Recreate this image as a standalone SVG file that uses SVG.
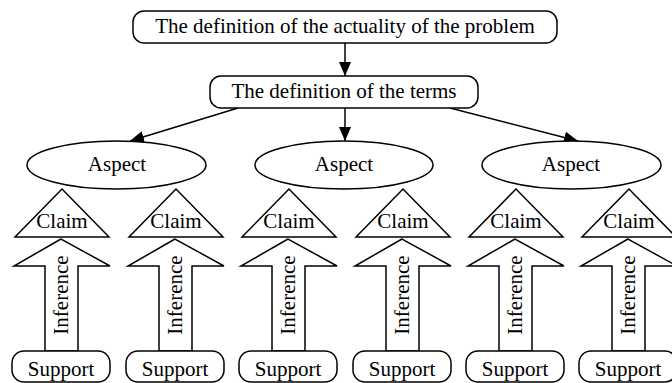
<svg xmlns="http://www.w3.org/2000/svg" width="672" height="383" viewBox="0 0 672 383">
<defs>
<style>
.s{fill:#fff;stroke:#000;stroke-width:1.5}
.t{font-family:'Liberation Serif','DejaVu Serif',serif;font-size:21px;fill:#000;text-anchor:middle}
.c{stroke:#000;stroke-width:1.5;fill:none}
</style>
<marker id="ah" viewBox="0 0 14 12" refX="14" refY="6" markerWidth="14" markerHeight="12" markerUnits="userSpaceOnUse" orient="auto">
<path d="M0,0 L14,6 L0,12 Z" fill="#000"/>
</marker>
<g id="col">
<polygon class="s" points="0,-48 -47,0 47,0"/>
<text class="t" font-family="Liberation Serif, serif" x="0" y="-9">Claim</text>
<polygon class="s" points="-1,2 -48,29 -17,29 -17,114 16,114 16,29 48,29"/>
<text class="t" font-family="Liberation Serif, serif" transform="translate(6,58) rotate(-90)" x="0" y="0">Inference</text>
<rect class="s" x="-50" y="114" width="98" height="31" rx="12"/>
<text class="t" font-family="Liberation Serif, serif" x="-1" y="139">Support</text>
</g>
</defs>
<g id="connectors">
<line class="c" x1="345" y1="43" x2="345" y2="76" marker-end="url(#ah)"/>
<line class="c" x1="238" y1="108" x2="130" y2="141" marker-end="url(#ah)"/>
<line class="c" x1="345" y1="108" x2="345" y2="141" marker-end="url(#ah)"/>
<line class="c" x1="450" y1="108" x2="578" y2="141" marker-end="url(#ah)"/>
</g>
<g id="node-actuality">
<rect class="s" x="133" y="11" width="424" height="32" rx="11"/>
<text class="t" font-family="Liberation Serif, serif" x="345" y="33">The definition of the actuality of the problem</text>
</g>
<g id="node-terms">
<rect class="s" x="210" y="76" width="268" height="32" rx="11"/>
<text class="t" font-family="Liberation Serif, serif" x="344" y="98">The definition of the terms</text>
</g>
<g id="node-aspect1">
<ellipse class="s" cx="116.5" cy="165" rx="89.5" ry="24"/>
<text class="t" font-family="Liberation Serif, serif" x="117" y="171">Aspect</text>
</g>
<g id="node-aspect2">
<ellipse class="s" cx="344" cy="165" rx="89" ry="24"/>
<text class="t" font-family="Liberation Serif, serif" x="344" y="171">Aspect</text>
</g>
<g id="node-aspect3">
<ellipse class="s" cx="571.5" cy="165" rx="89.5" ry="24"/>
<text class="t" font-family="Liberation Serif, serif" x="571" y="171">Aspect</text>
</g>
<g id="node-col1"><use href="#col" x="62" y="237"/></g>
<g id="node-col2"><use href="#col" x="176" y="237"/></g>
<g id="node-col3"><use href="#col" x="289" y="237"/></g>
<g id="node-col4"><use href="#col" x="403" y="237"/></g>
<g id="node-col5"><use href="#col" x="516" y="237"/></g>
<g id="node-col6"><use href="#col" x="629" y="237"/></g>
</svg>
